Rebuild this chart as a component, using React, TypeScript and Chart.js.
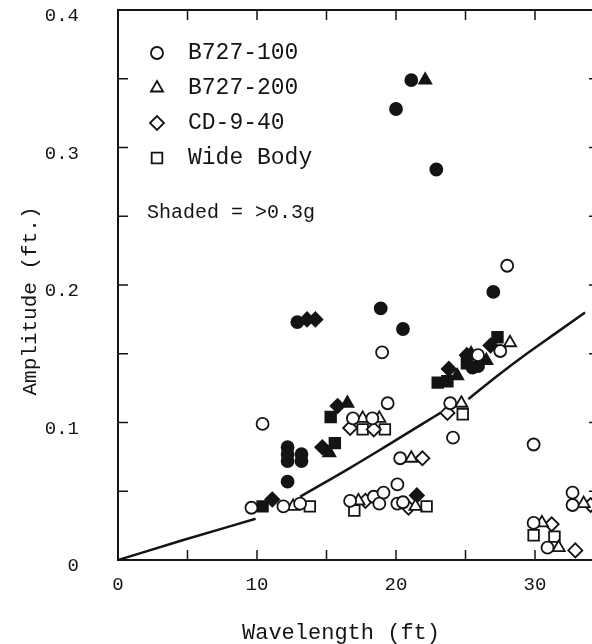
import React, { useEffect, useRef } from 'react';
import { Chart, registerables } from 'chart.js';
import { drawPoint } from 'chart.js/helpers';

Chart.register(...registerables);

// ---- axes ----
const X_MIN = 0;
const X_MAX = 34.1;
const X_FRAME_RIGHT = 34.6;
const Y_MIN = 0;
const Y_MAX = 0.4;
const X_TICK_STEP = 5;
const Y_TICK_STEP = 0.05;
const X_TICK_LABELS = [0, 10, 20, 30];
const Y_TICK_LABELS = [0, 0.1, 0.2, 0.3, 0.4];
const X_TITLE = 'Wavelength (ft)';
const Y_TITLE = 'Amplitude (ft.)';
const NOTE = 'Shaded = >0.3g';

// ---- series ----
const SERIES_NAMES = ['B727-100', 'B727-200', 'CD-9-40', 'Wide Body'];

type P = [number, number];

const b727_100_open: P[] = [
  [10.4, 0.099], [19.0, 0.151], [19.4, 0.114], [28.0, 0.214], [27.5, 0.152],
  [25.9, 0.149], [23.9, 0.114], [24.1, 0.089], [20.3, 0.074], [29.9, 0.084],
  [16.9, 0.103], [18.3, 0.103], [16.7, 0.043], [18.4, 0.046], [19.1, 0.049],
  [18.8, 0.041], [20.1, 0.055], [20.1, 0.041], [20.5, 0.042], [29.9, 0.027],
  [30.9, 0.009], [32.7, 0.049], [32.7, 0.040], [9.6, 0.038], [11.9, 0.039],
  [13.1, 0.041],
];
const b727_100_shaded: P[] = [
  [21.1, 0.349], [20.0, 0.328], [22.9, 0.284], [12.9, 0.173], [18.9, 0.183],
  [20.5, 0.168], [27.0, 0.195], [12.2, 0.082], [12.2, 0.077], [12.2, 0.072],
  [13.2, 0.077], [13.2, 0.072], [12.2, 0.057], [25.5, 0.140], [25.9, 0.141],
];
const b727_200_open: P[] = [
  [21.1, 0.074], [17.6, 0.103], [18.8, 0.103], [17.3, 0.043], [21.4, 0.039],
  [24.7, 0.114], [28.2, 0.158], [30.5, 0.027], [31.7, 0.009], [33.5, 0.041],
  [12.6, 0.039],
];
const b727_200_shaded: P[] = [
  [22.1, 0.349], [16.5, 0.114], [15.2, 0.078], [24.4, 0.134], [26.5, 0.145],
  [25.4, 0.150],
];
const cd940_open: P[] = [
  [21.9, 0.074], [16.7, 0.096], [18.4, 0.095], [17.8, 0.043], [20.9, 0.038],
  [23.7, 0.107], [31.2, 0.026], [32.9, 0.007], [34.0, 0.040],
];
const cd940_shaded: P[] = [
  [13.6, 0.175], [14.2, 0.175], [15.8, 0.112], [14.7, 0.082], [21.5, 0.047],
  [11.1, 0.044], [23.8, 0.139], [25.1, 0.149], [26.8, 0.156],
];
const wide_open: P[] = [
  [17.6, 0.095], [19.2, 0.095], [17.0, 0.036], [22.2, 0.039], [24.8, 0.106],
  [29.9, 0.018], [31.4, 0.017], [13.8, 0.039],
];
const wide_shaded: P[] = [
  [15.3, 0.104], [15.6, 0.085], [10.4, 0.039], [23.0, 0.129], [23.7, 0.130],
  [25.1, 0.143], [27.3, 0.162],
];

// boundary curve (null = break in the drawn line)
const curveX = [0, 4.7, 9.9, 11.5, 13.1, 16.7, 19.0, 21.9, 23.2, 24.3, 25.2, 27.3, 29.4, 31.5, 33.6];
const curveY: (number | null)[] = [0, 0.0145, 0.030, null, 0.046, 0.067, 0.081, 0.099, 0.107, null, 0.117, 0.134, 0.150, 0.165, 0.180];

const INK = '#141414';
const MONO = '"Courier New", "Liberation Mono", monospace';

const STYLES = ['circle', 'triangle', 'rectRot', 'rect'];
const RADII: Record<string, number> = { circle: 6, triangle: 7, rectRot: 7, rect: 7.5 };

const toPts = (a: P[]) => a.map(([x, y]) => ({ x, y }));

const framePlugin = {
  id: 'frame',
  beforeDatasetsDraw(chart: any) {
    const { ctx, chartArea: a, scales } = chart;
    const xs = scales.x;
    const ys = scales.y;
    const xr = xs.getPixelForValue(X_FRAME_RIGHT);
    ctx.save();
    ctx.strokeStyle = INK;
    ctx.lineWidth = 2;
    ctx.beginPath();
    ctx.moveTo(xr, a.top);
    ctx.lineTo(a.left, a.top);
    ctx.lineTo(a.left, a.bottom);
    ctx.lineTo(xr, a.bottom);
    ctx.stroke();
    ctx.lineWidth = 1.5;
    ctx.beginPath();
    for (const t of xs.ticks) {
      if (t.value <= X_MIN) continue;
      const px = xs.getPixelForValue(t.value);
      ctx.moveTo(px, a.bottom);
      ctx.lineTo(px, a.bottom - 10);
      ctx.moveTo(px, a.top);
      ctx.lineTo(px, a.top + 10);
    }
    for (const t of ys.ticks) {
      if (t.value <= Y_MIN || t.value >= Y_MAX) continue;
      const py = ys.getPixelForValue(t.value);
      ctx.moveTo(a.left, py);
      ctx.lineTo(a.left + 10, py);
      ctx.moveTo(xr, py);
      ctx.lineTo(xr - 10, py);
    }
    ctx.stroke();
    ctx.restore();
  },
  afterDraw(chart: any) {
    const { ctx, chartArea: a } = chart;
    ctx.save();
    ctx.fillStyle = INK;
    ctx.strokeStyle = INK;
    // legend
    ctx.font = `23px ${MONO}`;
    ctx.textBaseline = 'middle';
    ctx.textAlign = 'left';
    SERIES_NAMES.forEach((name, i) => {
      const cy = a.top + 43 + i * 35;
      const cx = a.left + 39;
      ctx.fillStyle = '#ffffff';
      ctx.lineWidth = 1.8;
      drawPoint(ctx, { pointStyle: STYLES[i], radius: RADII[STYLES[i]], rotation: 0, borderWidth: 1.8 } as any, cx, cy);
      ctx.fillStyle = INK;
      ctx.fillText(name, a.left + 70, cy);
    });
    ctx.font = `20px ${MONO}`;
    ctx.fillText(NOTE, a.left + 29, a.top + 203);
    // axis titles
    ctx.font = `22px ${MONO}`;
    ctx.textAlign = 'center';
    ctx.fillText(X_TITLE, 341, 633);
    ctx.font = `21px ${MONO}`;
    ctx.translate(30, 301);
    ctx.rotate(-Math.PI / 2);
    ctx.fillText(Y_TITLE, 0, 0);
    ctx.restore();
  },
};

export default function App() {
  const ref = useRef<HTMLCanvasElement | null>(null);
  useEffect(() => {
    if (!ref.current) return;
    const mk = (data: P[], style: string, filled: boolean) => ({
      type: 'scatter' as const,
      data: toPts(data),
      pointStyle: style,
      pointRadius: RADII[style],
      pointBorderWidth: 1.8,
      pointBackgroundColor: filled ? INK : '#ffffff',
      pointBorderColor: INK,
      showLine: false,
    });
    const chart = new Chart(ref.current, {
      type: 'scatter',
      data: {
        datasets: [
          {
            type: 'line' as const,
            data: curveX.map((x, i) => ({ x, y: curveY[i] as any })),
            borderColor: INK,
            borderWidth: 2.5,
            pointRadius: 0,
            spanGaps: false,
            cubicInterpolationMode: 'monotone',
            fill: false,
          } as any,
          mk(b727_100_open, 'circle', false),
          mk(b727_200_open, 'triangle', false),
          mk(cd940_open, 'rectRot', false),
          mk(wide_open, 'rect', false),
          mk(b727_100_shaded, 'circle', true),
          mk(b727_200_shaded, 'triangle', true),
          mk(cd940_shaded, 'rectRot', true),
          mk(wide_shaded, 'rect', true),
        ],
      },
      options: {
        animation: false,
        responsive: false,
        devicePixelRatio: 1,
        layout: { autoPadding: false, padding: { top: 10, right: 0, left: 0, bottom: 0 } },
        plugins: { legend: { display: false }, tooltip: { enabled: false } },
        scales: {
          x: {
            type: 'linear',
            min: X_MIN,
            max: X_MAX,
            afterFit: (s: any) => { s.height = 84; s.paddingLeft = 0; s.paddingRight = 0; },
            grid: { display: false },
            border: { display: false },
            ticks: {
              stepSize: X_TICK_STEP,
              includeBounds: false,
              autoSkip: false,
              maxRotation: 0,
              padding: 7,
              color: INK,
              font: { family: MONO, size: 19, lineHeight: 1 },
              callback: (v: any) => (X_TICK_LABELS.some((t) => Math.abs(t - v) < 1e-6) ? String(v) : ''),
            },
          },
          y: {
            type: 'linear',
            min: Y_MIN,
            max: Y_MAX,
            afterFit: (s: any) => { s.width = 118; s.paddingTop = 0; s.paddingBottom = 0; },
            grid: { display: false },
            border: { display: false },
            ticks: {
              stepSize: Y_TICK_STEP,
              includeBounds: false,
              autoSkip: false,
              padding: 31,
              labelOffset: 6,
              color: INK,
              font: { family: MONO, size: 19, lineHeight: 1 },
              callback: (v: any) => {
                const t = Y_TICK_LABELS.find((l) => Math.abs(l - v) < 1e-6);
                if (t === undefined) return '';
                return t === 0 ? '0' : t.toFixed(1);
              },
            },
          },
        },
      },
      plugins: [framePlugin],
    } as any);
    return () => chart.destroy();
  }, []);
  return (
    <div style={{ position: 'absolute', left: 0, top: 0, width: 592, height: 644, background: '#fff' }}>
      <canvas ref={ref} width={592} height={644} style={{ display: 'block' }} />
    </div>
  );
}
